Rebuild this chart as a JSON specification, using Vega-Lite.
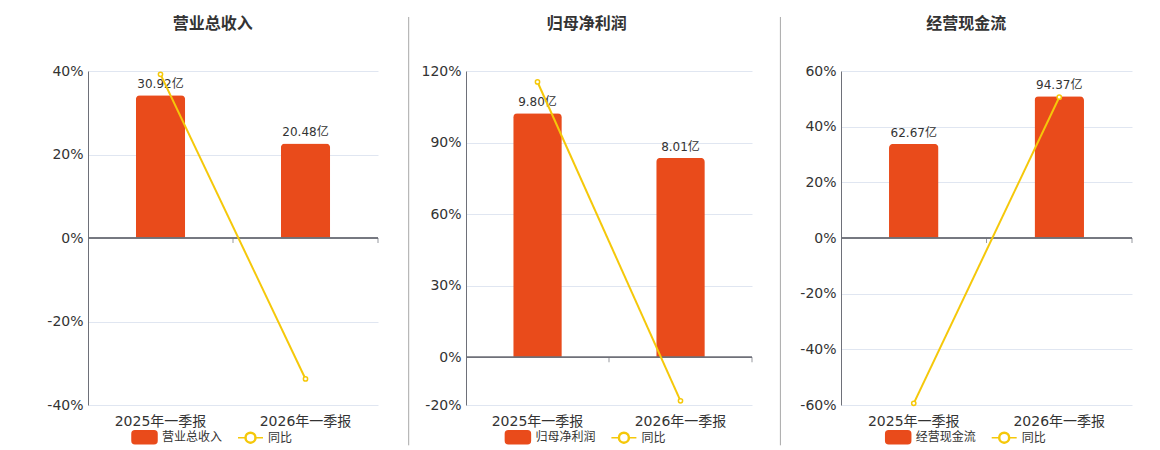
{
  "$schema": "https://vega.github.io/schema/vega-lite/v6.json",
  "padding": {"left": 46, "top": 16, "right": 5, "bottom": 0},
  "spacing": 10,
  "datasets": {
    "revenue": [
      {"period": "2025年一季报", "value": 30.92, "yoy": 39.2},
      {"period": "2026年一季报", "value": 20.48, "yoy": -33.77}
    ],
    "profit": [
      {"period": "2025年一季报", "value": 9.80, "yoy": 115.4},
      {"period": "2026年一季报", "value": 8.01, "yoy": -18.27}
    ],
    "cashflow": [
      {"period": "2025年一季报", "value": 62.67, "yoy": -59.4},
      {"period": "2026年一季报", "value": 94.37, "yoy": 50.58}
    ]
  },
  "resolve": {"scale": {"color": "independent"}, "legend": {"color": "independent"}},
  "hconcat": [
    {
      "data": {"name": "revenue"},
      "title": {"text": "营业总收入", "anchor": "middle", "frame": "bounds", "offset": 32},
      "width": 290,
      "height": 334,
      "resolve": {"scale": {"y": "independent"}},
      "layer": [
        {
          "transform": [{"calculate": "format(datum.value, '.2f') + '亿'", "as": "label"}],
          "encoding": {"y": {"field": "value", "type": "quantitative", "scale": {"domain": [-36.16, 36.16], "nice": false, "zero": false}, "axis": null}},
          "layer": [
            {
              "mark": {"type": "bar", "width": {"band": 0.34}, "cornerRadiusTopLeft": 4, "cornerRadiusTopRight": 4},
              "encoding": {
                "x": {"field": "period", "type": "nominal", "sort": null, "scale": {"paddingInner": 0, "paddingOuter": 0}, "axis": {"title": null, "domain": false, "ticks": false, "labelAngle": 0, "labelPadding": 9}},
                "color": {
                  "datum": "营业总收入", "type": "nominal",
                  "scale": {"domain": ["营业总收入", "同比"], "range": ["#E94B1B", "#F5C80A"]},
                  "legend": {
                    "title": null, "orient": "none", "legendX": 43, "legendY": 352.7, "direction": "horizontal",
                    "symbolSize": 625, "labelFontSize": 12, "labelColor": "#333333", "labelOffset": 4, "columnPadding": 12,
                    "encode": {"symbols": {"update": {
                      "shape": {"signal": "datum.value === '同比' ? 'M-1,0H-0.44M0.44,0H1M0.44,0A0.44,0.44,0,1,1,-0.44,0A0.44,0.44,0,1,1,0.44,0ZM0.36,0A0.36,0.36,0,1,0,-0.36,0A0.36,0.36,0,1,0,0.36,0Z' : 'M-0.76,-0.52H0.76A0.24,0.24,0,0,1,1,-0.28V0.28A0.24,0.24,0,0,1,0.76,0.52H-0.76A0.24,0.24,0,0,1,-1,0.28V-0.28A0.24,0.24,0,0,1,-0.76,-0.52Z'"},
                      "fill": {"signal": "datum.value === '同比' ? '#F5C80A' : '#E94B1B'"},
                      "stroke": {"signal": "datum.value === '同比' ? '#F5C80A' : null"},
                      "strokeWidth": {"value": 1.5},
                      "opacity": {"value": 1}
                    }}}
                  }
                }
              }
            },
            {
              "mark": {"type": "text", "baseline": "alphabetic", "dy": -7, "fontSize": 12, "color": "#333333"},
              "encoding": {
                "x": {"field": "period", "type": "nominal", "sort": null},
                "text": {"field": "label"}
              }
            }
          ]
        },
        {
          "encoding": {"y": {"field": "yoy", "type": "quantitative", "scale": {"domain": [-40, 40], "nice": false}, "axis": {"title": null, "values": [-40, -20, 0, 20, 40], "labelExpr": "datum.value + '%'", "grid": true, "domain": true, "ticks": false, "labelPadding": 5}}},
          "layer": [
            {"mark": {"type": "rule", "color": "#6E7079", "strokeWidth": 1.5}, "encoding": {"y": {"datum": 0}}},
            {"mark": {"type": "tick", "orient": "vertical", "size": 5, "yOffset": 2.5, "thickness": 1, "color": "#6E7079"}, "encoding": {"x": {"field": "period", "type": "nominal", "sort": null, "bandPosition": 1}, "y": {"datum": 0}}},
            {"mark": {"type": "line", "strokeWidth": 2}, "encoding": {"x": {"field": "period", "type": "nominal", "sort": null}, "color": {"datum": "同比", "type": "nominal"}}},
            {"mark": {"type": "point", "filled": true, "fill": "#ffffff", "stroke": "#F5C80A", "strokeWidth": 1.5, "size": 18, "opacity": 1}, "encoding": {"x": {"field": "period", "type": "nominal", "sort": null}}}
          ]
        }
      ]
    },
    {
      "data": {"values": [{"p": 1, "top": 1.1617, "bottom": -0.1207}]},
      "width": 19.7,
      "height": 334,
      "mark": {"type": "rule", "color": "#A8A8A8", "strokeWidth": 1, "clip": false},
      "encoding": {
        "x": {"field": "p", "type": "quantitative", "scale": {"domain": [0, 1]}, "axis": null},
        "y": {"field": "top", "type": "quantitative", "scale": {"domain": [0, 1], "nice": false, "zero": false}, "axis": null},
        "y2": {"field": "bottom"}
      }
    },
    {
      "data": {"name": "profit"},
      "title": {"text": "归母净利润", "anchor": "middle", "frame": "bounds", "offset": 32},
      "width": 286,
      "height": 334,
      "resolve": {"scale": {"y": "independent"}},
      "layer": [
        {
          "transform": [{"calculate": "format(datum.value, '.2f') + '亿'", "as": "label"}],
          "encoding": {"y": {"field": "value", "type": "quantitative", "scale": {"domain": [-1.917, 11.5], "nice": false, "zero": false}, "axis": null}},
          "layer": [
            {
              "mark": {"type": "bar", "width": {"band": 0.34}, "cornerRadiusTopLeft": 4, "cornerRadiusTopRight": 4},
              "encoding": {
                "x": {"field": "period", "type": "nominal", "sort": null, "scale": {"paddingInner": 0, "paddingOuter": 0}, "axis": {"title": null, "domain": false, "ticks": false, "labelAngle": 0, "labelPadding": 9}},
                "color": {
                  "datum": "归母净利润", "type": "nominal",
                  "scale": {"domain": ["归母净利润", "同比"], "range": ["#E94B1B", "#F5C80A"]},
                  "legend": {
                    "title": null, "orient": "none", "legendX": 38.4, "legendY": 352.7, "direction": "horizontal",
                    "symbolSize": 625, "labelFontSize": 12, "labelColor": "#333333", "labelOffset": 4, "columnPadding": 12,
                    "encode": {"symbols": {"update": {
                      "shape": {"signal": "datum.value === '同比' ? 'M-1,0H-0.44M0.44,0H1M0.44,0A0.44,0.44,0,1,1,-0.44,0A0.44,0.44,0,1,1,0.44,0ZM0.36,0A0.36,0.36,0,1,0,-0.36,0A0.36,0.36,0,1,0,0.36,0Z' : 'M-0.76,-0.52H0.76A0.24,0.24,0,0,1,1,-0.28V0.28A0.24,0.24,0,0,1,0.76,0.52H-0.76A0.24,0.24,0,0,1,-1,0.28V-0.28A0.24,0.24,0,0,1,-0.76,-0.52Z'"},
                      "fill": {"signal": "datum.value === '同比' ? '#F5C80A' : '#E94B1B'"},
                      "stroke": {"signal": "datum.value === '同比' ? '#F5C80A' : null"},
                      "strokeWidth": {"value": 1.5},
                      "opacity": {"value": 1}
                    }}}
                  }
                }
              }
            },
            {
              "mark": {"type": "text", "baseline": "alphabetic", "dy": -7, "fontSize": 12, "color": "#333333"},
              "encoding": {
                "x": {"field": "period", "type": "nominal", "sort": null},
                "text": {"field": "label"}
              }
            }
          ]
        },
        {
          "encoding": {"y": {"field": "yoy", "type": "quantitative", "scale": {"domain": [-20, 120], "nice": false}, "axis": {"title": null, "values": [-20, 0, 30, 60, 90, 120], "labelExpr": "datum.value + '%'", "grid": true, "domain": true, "ticks": false, "labelPadding": 5}}},
          "layer": [
            {"mark": {"type": "rule", "color": "#6E7079", "strokeWidth": 1.5}, "encoding": {"y": {"datum": 0}}},
            {"mark": {"type": "tick", "orient": "vertical", "size": 5, "yOffset": 2.5, "thickness": 1, "color": "#6E7079"}, "encoding": {"x": {"field": "period", "type": "nominal", "sort": null, "bandPosition": 1}, "y": {"datum": 0}}},
            {"mark": {"type": "line", "strokeWidth": 2}, "encoding": {"x": {"field": "period", "type": "nominal", "sort": null}, "color": {"datum": "同比", "type": "nominal"}}},
            {"mark": {"type": "point", "filled": true, "fill": "#ffffff", "stroke": "#F5C80A", "strokeWidth": 1.5, "size": 18, "opacity": 1}, "encoding": {"x": {"field": "period", "type": "nominal", "sort": null}}}
          ]
        }
      ]
    },
    {
      "data": {"values": [{"p": 0.682, "top": 1.1617, "bottom": -0.1207}]},
      "width": 25.5,
      "height": 334,
      "mark": {"type": "rule", "color": "#A8A8A8", "strokeWidth": 1, "clip": false},
      "encoding": {
        "x": {"field": "p", "type": "quantitative", "scale": {"domain": [0, 1]}, "axis": null},
        "y": {"field": "top", "type": "quantitative", "scale": {"domain": [0, 1], "nice": false, "zero": false}, "axis": null},
        "y2": {"field": "bottom"}
      }
    },
    {
      "data": {"name": "cashflow"},
      "title": {"text": "经营现金流", "anchor": "middle", "frame": "bounds", "offset": 32},
      "width": 291,
      "height": 334,
      "resolve": {"scale": {"y": "independent"}},
      "layer": [
        {
          "transform": [{"calculate": "format(datum.value, '.2f') + '亿'", "as": "label"}],
          "encoding": {"y": {"field": "value", "type": "quantitative", "scale": {"domain": [-111.2, 111.2], "nice": false, "zero": false}, "axis": null}},
          "layer": [
            {
              "mark": {"type": "bar", "width": {"band": 0.34}, "cornerRadiusTopLeft": 4, "cornerRadiusTopRight": 4},
              "encoding": {
                "x": {"field": "period", "type": "nominal", "sort": null, "scale": {"paddingInner": 0, "paddingOuter": 0}, "axis": {"title": null, "domain": false, "ticks": false, "labelAngle": 0, "labelPadding": 9}},
                "color": {
                  "datum": "经营现金流", "type": "nominal",
                  "scale": {"domain": ["经营现金流", "同比"], "range": ["#E94B1B", "#F5C80A"]},
                  "legend": {
                    "title": null, "orient": "none", "legendX": 43.7, "legendY": 352.7, "direction": "horizontal",
                    "symbolSize": 625, "labelFontSize": 12, "labelColor": "#333333", "labelOffset": 4, "columnPadding": 12,
                    "encode": {"symbols": {"update": {
                      "shape": {"signal": "datum.value === '同比' ? 'M-1,0H-0.44M0.44,0H1M0.44,0A0.44,0.44,0,1,1,-0.44,0A0.44,0.44,0,1,1,0.44,0ZM0.36,0A0.36,0.36,0,1,0,-0.36,0A0.36,0.36,0,1,0,0.36,0Z' : 'M-0.76,-0.52H0.76A0.24,0.24,0,0,1,1,-0.28V0.28A0.24,0.24,0,0,1,0.76,0.52H-0.76A0.24,0.24,0,0,1,-1,0.28V-0.28A0.24,0.24,0,0,1,-0.76,-0.52Z'"},
                      "fill": {"signal": "datum.value === '同比' ? '#F5C80A' : '#E94B1B'"},
                      "stroke": {"signal": "datum.value === '同比' ? '#F5C80A' : null"},
                      "strokeWidth": {"value": 1.5},
                      "opacity": {"value": 1}
                    }}}
                  }
                }
              }
            },
            {
              "mark": {"type": "text", "baseline": "alphabetic", "dy": -7, "fontSize": 12, "color": "#333333"},
              "encoding": {
                "x": {"field": "period", "type": "nominal", "sort": null},
                "text": {"field": "label"}
              }
            }
          ]
        },
        {
          "encoding": {"y": {"field": "yoy", "type": "quantitative", "scale": {"domain": [-60, 60], "nice": false}, "axis": {"title": null, "values": [-60, -40, -20, 0, 20, 40, 60], "labelExpr": "datum.value + '%'", "grid": true, "domain": true, "ticks": false, "labelPadding": 5}}},
          "layer": [
            {"mark": {"type": "rule", "color": "#6E7079", "strokeWidth": 1.5}, "encoding": {"y": {"datum": 0}}},
            {"mark": {"type": "tick", "orient": "vertical", "size": 5, "yOffset": 2.5, "thickness": 1, "color": "#6E7079"}, "encoding": {"x": {"field": "period", "type": "nominal", "sort": null, "bandPosition": 1}, "y": {"datum": 0}}},
            {"mark": {"type": "line", "strokeWidth": 2}, "encoding": {"x": {"field": "period", "type": "nominal", "sort": null}, "color": {"datum": "同比", "type": "nominal"}}},
            {"mark": {"type": "point", "filled": true, "fill": "#ffffff", "stroke": "#F5C80A", "strokeWidth": 1.5, "size": 18, "opacity": 1}, "encoding": {"x": {"field": "period", "type": "nominal", "sort": null}}}
          ]
        }
      ]
    }
  ],
  "config": {
    "font": "DejaVu Sans, Noto Sans CJK SC, sans-serif",
    "view": {"stroke": null},
    "title": {"fontSize": 16, "fontWeight": "bold", "color": "#333333", "font": "Noto Sans CJK SC, DejaVu Sans, sans-serif"},
    "axis": {"labelFontSize": 14, "labelColor": "#333333", "domainColor": "#6E7079", "gridColor": "#E0E6F1", "labelFont": "DejaVu Sans, Noto Sans CJK SC, sans-serif"},
    "legend": {"labelFont": "DejaVu Sans, Noto Sans CJK SC, sans-serif"}
  }
}
